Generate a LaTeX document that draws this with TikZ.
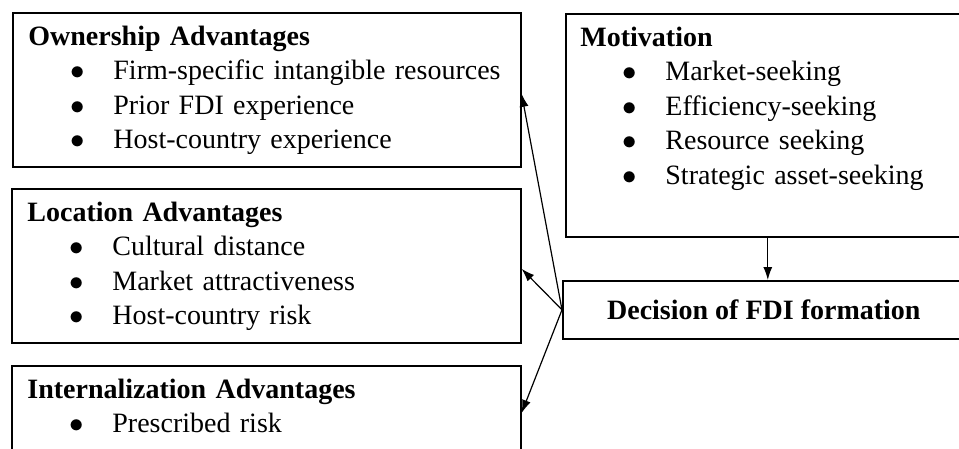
\documentclass[tikz,border=0pt]{standalone}
\usepackage{fontspec}
\setmainfont{Liberation Serif}
\usetikzlibrary{arrows.meta,positioning}

\newcommand{\bul}[1]{\\\makebox[42.5pt][l]{\hspace*{21.5pt}\makebox[6pt][c]{$\bullet$}}#1}
\newcommand{\firstline}{\rule{0pt}{16.5pt}}

\begin{document}
\begin{tikzpicture}[x=0.5pt,y=-0.5pt]
	\tikzstyle{panel}=[draw=black,line width=0.8pt,rectangle,anchor=north west,inner sep=0pt,font=\fontsize{14pt}{17.25pt}\selectfont]
	\tikzstyle{list}=[anchor=north west,inner sep=0pt,text width=245pt,align=left,font=\fontsize{14pt}{17.25pt}\selectfont]
	\tikzstyle{link}=[line width=0.6pt,-{Latex[length=6.5pt,width=4.5pt]}]

	\useasboundingbox (0,0) rectangle (959,449);

	% left column
	\node [panel,minimum width=254pt,minimum height=77pt] (own) at (12,12) {};
	\node [panel,minimum width=254.5pt,minimum height=77pt] (loc) at (11,188) {};
	\node [panel,minimum width=254.5pt,minimum height=77pt] (intl) at (11,365) {};

	\node [list] (ownList) [below right=0pt and 8pt of own.north west]
		{\firstline\textbf{Ownership Advantages}
		\bul{Firm-specific intangible resources}
		\bul{Prior FDI experience}
		\bul{Host-country experience}};
	\node [list] (locList) [below right=0pt and 8pt of loc.north west]
		{\firstline\textbf{Location Advantages}
		\bul{Cultural distance}
		\bul{Market attractiveness}
		\bul{Host-country risk}};
	\node [list] (intlList) [below right=0pt and 8pt of intl.north west]
		{\firstline\textbf{Internalization Advantages}
		\bul{Prescribed risk}};

	% right column
	\node [panel,minimum width=202pt,minimum height=111.5pt] (mot) at (565,13) {};
	\node [list] (motList) [below right=0pt and 7.5pt of mot.north west]
		{\firstline\textbf{Motivation}
		\bul{Market-seeking}
		\bul{Efficiency-seeking}
		\bul{Resource seeking}
		\bul{Strategic asset-seeking}};
	\node [panel,minimum width=201pt,minimum height=29pt] (dec) at (562,280)
		{\textbf{Decision of FDI formation}};

	\draw [link] (mot.south) -- (mot.south |- dec.north);
	\path [link] (dec.west) edge ([yshift=-2pt]own.east)
		edge ([yshift=-1.5pt]loc.east)
		edge ([yshift=-24pt]intl.north east);
\end{tikzpicture}
\end{document}
